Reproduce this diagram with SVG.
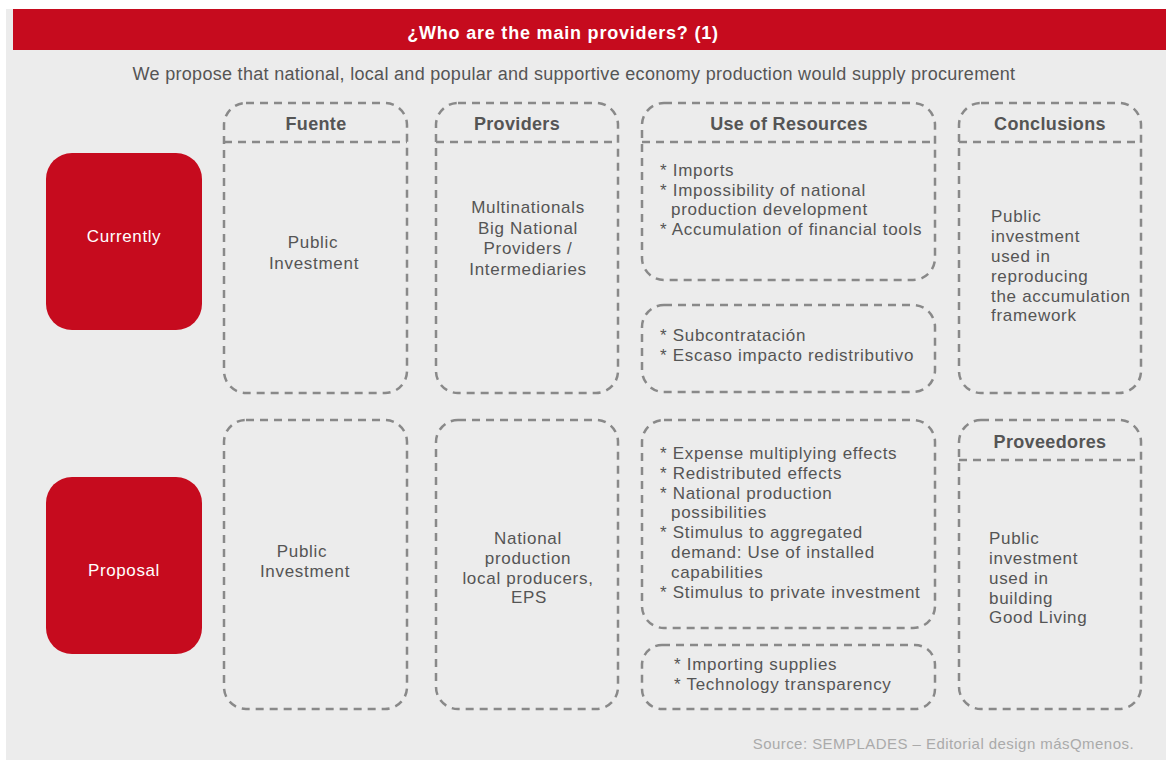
<svg xmlns="http://www.w3.org/2000/svg" width="1166" height="760" viewBox="0 0 1166 760">
<style>
.dash{fill:none;stroke:#898989;stroke-width:2.5;stroke-dasharray:8 6}
.red{fill:#c60b1e}
.t{font-family:"Liberation Sans",Arial,sans-serif;font-size:17px;letter-spacing:0.7px;fill:#555}
.h{font-family:"Liberation Sans",Arial,sans-serif;font-size:18px;letter-spacing:0.35px;font-weight:bold;fill:#555;text-anchor:middle}
.c{text-anchor:middle}
.w{font-family:"Liberation Sans",Arial,sans-serif;font-size:17px;letter-spacing:0.6px;fill:#fff;text-anchor:middle}
</style>
<rect x="0" y="0" width="1166" height="760" fill="#fff"/>
<rect x="6" y="9" width="1160" height="751" fill="#ececec"/>
<g id="title">
<rect x="13" y="9" width="1153" height="41" class="red"/>
<text x="563" y="39" class="w" style="font-weight:bold;font-size:18px;letter-spacing:0.8px">¿Who are the main providers? (1)</text>
</g>
<text id="subtitle" x="574" y="80" class="t c" style="font-size:18px;letter-spacing:0.3px">We propose that national, local and popular and supportive economy production would supply procurement</text>

<g id="currently">
<rect x="46" y="153" width="156" height="177" rx="26" class="red"/>
<text x="124" y="242" class="w">Currently</text>
</g>
<g id="proposal">
<rect x="46" y="477" width="156" height="177" rx="26" class="red"/>
<text x="124" y="576" class="w">Proposal</text>
</g>

<g id="fuente-current">
<rect x="224" y="103" width="183" height="290" rx="22" class="dash"/>
<line x1="224" y1="142" x2="407" y2="142" class="dash"/>
<text x="316" y="130" class="h">Fuente</text>
<text class="t c"><tspan x="313" y="248">Public</tspan><tspan x="314" y="269">Investment</tspan></text>
</g>
<g id="providers-current">
<rect x="436" y="103" width="182" height="290" rx="22" class="dash"/>
<line x1="436" y1="142" x2="618" y2="142" class="dash"/>
<text x="517" y="130" class="h">Providers</text>
<text class="t c"><tspan x="528" y="213">Multinationals</tspan><tspan x="528" y="234">Big National</tspan><tspan x="528" y="254">Providers /</tspan><tspan x="528" y="275">Intermediaries</tspan></text>
</g>
<g id="use-current">
<rect x="642" y="103" width="293" height="177" rx="22" class="dash"/>
<line x1="642" y1="142" x2="935" y2="142" class="dash"/>
<text x="789" y="130" class="h">Use of Resources</text>
<text class="t"><tspan x="660" y="176">* Imports</tspan><tspan x="660" y="196">* Impossibility of national</tspan><tspan x="671" y="215">production development</tspan><tspan x="660" y="235">* Accumulation of financial tools</tspan></text>
</g>
<g id="use-current-2">
<rect x="642" y="305" width="293" height="87" rx="22" class="dash"/>
<text class="t"><tspan x="660" y="341">* Subcontratación</tspan><tspan x="660" y="361">* Escaso impacto redistributivo</tspan></text>
</g>
<g id="conclusions">
<rect x="959" y="103" width="182" height="290" rx="22" class="dash"/>
<line x1="959" y1="142" x2="1141" y2="142" class="dash"/>
<text x="1050" y="130" class="h">Conclusions</text>
<text class="t"><tspan x="991" y="222">Public</tspan><tspan x="991" y="242">investment</tspan><tspan x="991" y="262">used in</tspan><tspan x="991" y="282">reproducing</tspan><tspan x="991" y="302">the accumulation</tspan><tspan x="991" y="321">framework</tspan></text>
</g>

<g id="fuente-proposal">
<rect x="224" y="420" width="183" height="289" rx="22" class="dash"/>
<text class="t c"><tspan x="302" y="557">Public</tspan><tspan x="305" y="577">Investment</tspan></text>
</g>
<g id="providers-proposal">
<rect x="436" y="420" width="182" height="289" rx="22" class="dash"/>
<text class="t c"><tspan x="528" y="544">National</tspan><tspan x="528" y="564">production</tspan><tspan x="528" y="584">local producers,</tspan><tspan x="529" y="603">EPS</tspan></text>
</g>
<g id="use-proposal">
<rect x="642" y="420" width="293" height="208" rx="22" class="dash"/>
<text class="t"><tspan x="660" y="459">* Expense multiplying effects</tspan><tspan x="660" y="479">* Redistributed effects</tspan><tspan x="660" y="499">* National production</tspan><tspan x="671" y="518">possibilities</tspan><tspan x="660" y="538">* Stimulus to aggregated</tspan><tspan x="671" y="558">demand: Use of installed</tspan><tspan x="671" y="578">capabilities</tspan><tspan x="660" y="598">* Stimulus to private investment</tspan></text>
</g>
<g id="use-proposal-2">
<rect x="642" y="645" width="293" height="64" rx="20" class="dash"/>
<text class="t"><tspan x="674" y="670">* Importing supplies</tspan><tspan x="674" y="690">* Technology transparency</tspan></text>
</g>
<g id="proveedores">
<rect x="959" y="420" width="182" height="289" rx="22" class="dash"/>
<line x1="959" y1="460" x2="1141" y2="460" class="dash"/>
<text x="1050" y="448" class="h">Proveedores</text>
<text class="t"><tspan x="989" y="544">Public</tspan><tspan x="989" y="564">investment</tspan><tspan x="989" y="584">used in</tspan><tspan x="989" y="604">building</tspan><tspan x="989" y="623">Good Living</tspan></text>
</g>
<g id="connectors"></g>
<text id="footer" x="1134" y="749" style="font-family:'Liberation Sans',Arial,sans-serif;font-size:15px;letter-spacing:0.45px;fill:#aaa;text-anchor:end">Source: SEMPLADES – Editorial design másQmenos.</text>
</svg>
